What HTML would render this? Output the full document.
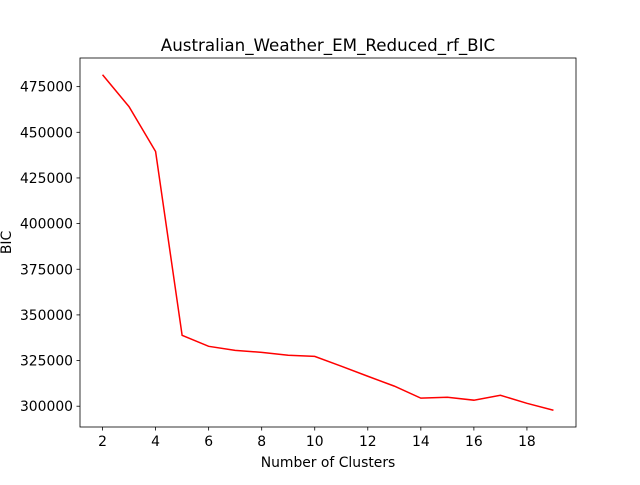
<!DOCTYPE html>
<html><head><meta charset="utf-8"><style>
body{margin:0;background:#fff;}
text{font-family:"DejaVu Sans","Liberation Sans",sans-serif;}
</style></head><body>
<svg id="chart" width="640" height="480" xmlns="http://www.w3.org/2000/svg">
<rect width="640" height="480" fill="#fff"/>
<g id="plot"></g>
</svg>
<script>
const clusters=[2,3,4,5,6,7,8,9,10,11,12,13,14,15,16,17,18,19];
const bicValues=[481500,464000,439500,338800,332800,330600,329500,327900,327300,321900,316400,311000,304400,304900,303300,306000,301600,297800];
const xTicks=[2,4,6,8,10,12,14,16,18];
const yTicks=[300000,325000,350000,375000,400000,425000,450000,475000];
const L=80,R=576,T=58,B=427;
const xmin=1.15,xmax=19.85,ymin=288615,ymax=490685;
const sx=v=>L+(v-xmin)/(xmax-xmin)*(R-L);
const sy=v=>B-(v-ymin)/(ymax-ymin)*(B-T);
const NS='http://www.w3.org/2000/svg';
const g=document.getElementById('plot');
function mk(tag,attrs,txt){const e=document.createElementNS(NS,tag);for(const k in attrs)e.setAttribute(k,attrs[k]);if(txt!==undefined)e.textContent=txt;g.appendChild(e);return e;}
const pts=clusters.map((c,i)=>sx(c).toFixed(2)+','+sy(bicValues[i]).toFixed(2)).join(' ');
const line=mk('polyline',{points:pts,fill:'none',stroke:'#ff0000','stroke-width':1.5});


const frame=mk('rect',{x:L,y:T,width:R-L,height:B-T,fill:'none',stroke:'#000','stroke-width':0.8});


xTicks.forEach(t=>{const x=sx(t);
 mk('line',{x1:x,x2:x,y1:B,y2:B+3.5,stroke:'#000','stroke-width':0.8});
 const tx=mk('text',{x:x,y:B+19,'text-anchor':'middle','font-size':13.9},String(t));
 
 
});
yTicks.forEach(t=>{const y=sy(t);
 mk('line',{x1:L,x2:L-3.5,y1:y,y2:y,stroke:'#000','stroke-width':0.8});
 const tx=mk('text',{x:L-7,y:y+5,'text-anchor':'end','font-size':13.9},String(t));
 
 
});
const title=mk('text',{x:(L+R)/2,y:51,'text-anchor':'middle','font-size':16.7},'Australian_Weather_EM_Reduced_rf_BIC');


const xl=mk('text',{x:(L+R)/2,y:467,'text-anchor':'middle','font-size':13.9},'Number of Clusters');


const yl=mk('text',{x:0,y:0,'text-anchor':'middle','font-size':13.9,transform:'translate(11,'+((T+B)/2)+') rotate(-90)'},'BIC');


</script>
</body></html>
